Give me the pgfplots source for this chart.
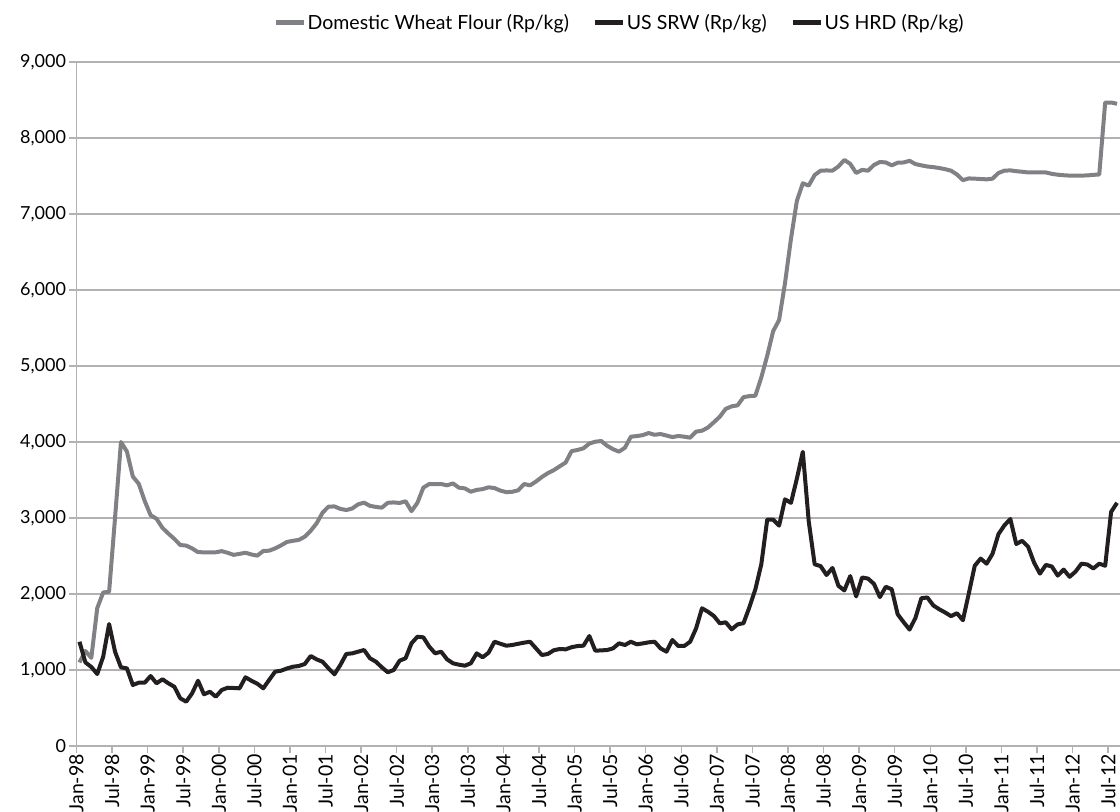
\documentclass[border=0pt]{standalone}
\usepackage{fontspec}
\setmainfont{Lato}
\usepackage{pgfplots}
\pgfplotsset{compat=1.18}
\usepackage{pgfplotstable}

\definecolor{flourgray}{RGB}{128,129,132}
\definecolor{usblack}{RGB}{35,31,32}
\definecolor{gridc}{RGB}{178,178,178}

% month index (0 = Jan-98), Rp/kg
\pgfplotstableread{
m flour srw
0 1100 1372
1 1250 1100
2 1160 1040
3 1815 947
4 2020 1175
5 2030 1605
6 3000 1241
7 4000 1035
8 3875 1022
9 3546 803
10 3450 833
11 3225 833
12 3037 921
13 2990 825
14 2870 878
15 2795 825
16 2725 780
17 2645 628
18 2637 583
19 2600 693
20 2550 859
21 2549 680
22 2549 714
23 2549 649
24 2564 737
25 2542 767
26 2515 763
27 2528 759
28 2543 904
29 2520 859
30 2505 820
31 2566 759
32 2570 870
33 2600 978
34 2640 991
35 2685 1020
36 2700 1043
37 2712 1053
38 2754 1079
39 2832 1184
40 2930 1140
41 3070 1109
42 3150 1022
43 3152 943
44 3120 1066
45 3105 1211
46 3125 1219
47 3180 1241
48 3202 1263
49 3160 1154
50 3146 1109
51 3136 1035
52 3200 970
53 3205 1000
54 3198 1123
55 3220 1154
56 3090 1351
57 3200 1438
58 3400 1430
59 3447 1307
60 3447 1219
61 3447 1241
62 3430 1140
63 3455 1088
64 3399 1070
65 3390 1057
66 3346 1088
67 3370 1219
68 3380 1167
69 3404 1228
70 3394 1372
71 3360 1345
72 3340 1320
73 3345 1329
74 3365 1345
75 3447 1360
76 3430 1372
77 3480 1285
78 3540 1197
79 3590 1211
80 3630 1260
81 3680 1276
82 3730 1272
83 3880 1300
84 3895 1315
85 3917 1320
86 3980 1447
87 4004 1254
88 4013 1258
89 3950 1263
90 3905 1285
91 3873 1351
92 3925 1329
93 4070 1372
94 4078 1338
95 4090 1350
96 4118 1364
97 4095 1372
98 4105 1285
99 4085 1241
100 4065 1395
101 4079 1316
102 4070 1316
103 4057 1372
104 4136 1548
105 4149 1812
106 4190 1767
107 4260 1711
108 4333 1614
109 4436 1628
110 4469 1535
111 4482 1600
112 4590 1616
113 4604 1828
114 4609 2062
115 4850 2391
116 5136 2979
117 5458 2979
118 5604 2899
119 6092 3246
120 6672 3199
121 7173 3518
122 7404 3871
123 7374 2955
124 7513 2391
125 7570 2367
126 7573 2250
127 7570 2343
128 7625 2109
129 7711 2047
130 7660 2236
131 7540 1968
132 7580 2217
133 7570 2203
134 7645 2133
135 7685 1959
136 7678 2095
137 7640 2062
138 7675 1733
139 7678 1630
140 7700 1532
141 7657 1686
142 7640 1945
143 7625 1954
144 7617 1850
145 7605 1800
146 7590 1757
147 7570 1709
148 7520 1747
149 7445 1655
150 7468 2008
151 7465 2372
152 7460 2466
153 7456 2399
154 7465 2529
155 7540 2788
156 7570 2903
157 7574 2987
158 7563 2658
159 7556 2700
160 7547 2622
161 7547 2414
162 7547 2268
163 7547 2383
164 7528 2362
165 7517 2242
166 7510 2321
167 7505 2226
168 7505 2295
169 7505 2399
170 7508 2388
171 7515 2336
172 7520 2399
173 8467 2372
174 8467 3080
175 8450 3200
}\wheat

\begin{document}
\begin{tikzpicture}
\begin{axis}[
  name=ax,
  scale only axis,
  width=1043.5pt, height=684pt,
  xmin=-0.5, xmax=175.5,
  ymin=0, ymax=9000,
  axis x line*=bottom, axis y line*=left,
  axis line style={gridc, line width=1.5pt},
  xtick={-0.5,5.5,...,173.5},
  xticklabels={Jan-98,Jul-98,Jan-99,Jul-99,Jan-00,Jul-00,Jan-01,Jul-01,Jan-02,Jul-02,Jan-03,Jul-03,Jan-04,Jul-04,Jan-05,Jul-05,Jan-06,Jul-06,Jan-07,Jul-07,Jan-08,Jul-08,Jan-09,Jul-09,Jan-10,Jul-10,Jan-11,Jul-11,Jan-12,Jul-12},
  ytick={0,1000,...,9000},
  ymajorgrids,
  grid style={gridc, line width=1.5pt},
  tick align=outside,
  major tick length=7pt,
  tick style={gridc, line width=1.5pt},
  xticklabel style={rotate=90, anchor=east, inner sep=1pt, font=\fontsize{19.5}{19.5}\selectfont},
  yticklabel style={font=\fontsize{18}{18}\selectfont},
  /pgf/number format/assume math mode=true,
  /pgf/number format/1000 sep={,},
  legend style={at={(0.52,1.058)}, anchor=center, draw=none,
    font=\fontsize{19.5}{19.5}\selectfont,
    nodes={inner xsep=1.5pt},
    /tikz/every even column/.append style={column sep=22pt}},
  legend columns=-1,
  legend image code/.code={\draw[#1, line width=5pt] (0pt,0pt) -- (28pt,0pt);},
]
\addplot[flourgray, line width=4pt, line join=round] table[x=m, y=flour] {\wheat};
\addlegendentry{Domestic Wheat Flour (Rp/kg)}
\addplot[usblack, line width=4pt, line join=round] table[x=m, y=srw] {\wheat};
\addlegendentry{US SRW (Rp/kg)}
\addlegendimage{usblack, line width=4pt}
\addlegendentry{US HRD (Rp/kg)}
\end{axis}
\pgfresetboundingbox
\path[use as bounding box] ([xshift=-76.5pt, yshift=-65pt]ax.south west) rectangle ([yshift=62pt]ax.north east);
\end{tikzpicture}
\end{document}
